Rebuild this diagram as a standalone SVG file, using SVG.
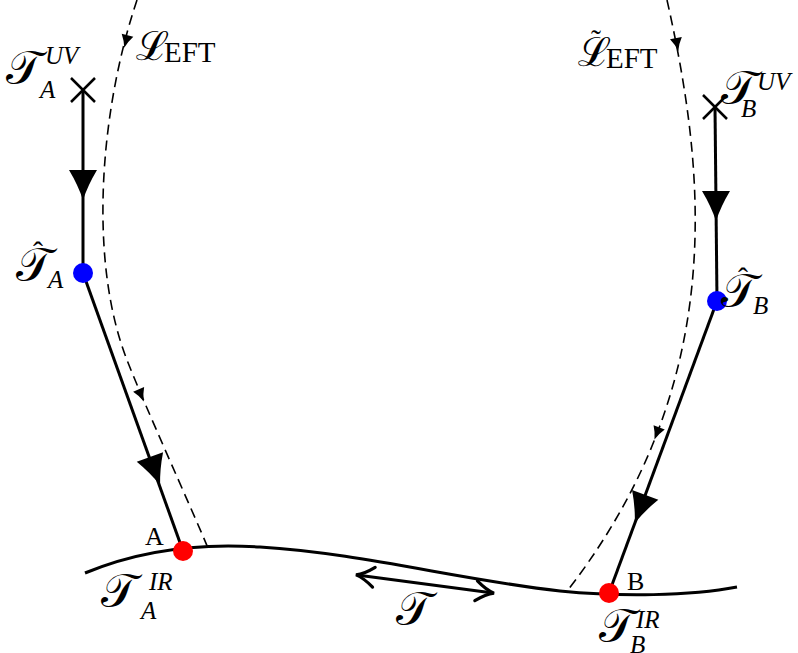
<svg xmlns="http://www.w3.org/2000/svg" width="798" height="653" viewBox="0 0 798 653">
<style>
.solid{fill:none;stroke:#000;stroke-width:3}
.dash{fill:none;stroke:#000;stroke-width:1.6;stroke-dasharray:10 6}
.cross{stroke:#000;stroke-width:2.5;fill:none}
.blue{fill:#0000ff}
.red{fill:#ff0000}
.scr{font-family:"DejaVu Serif","Noto Sans",serif;font-size:47px}
.scl{font-family:"DejaVu Serif","Noto Sans",serif;font-size:40px}
.it{font-family:"Liberation Serif",serif;font-style:italic;font-size:25px}
.rm{font-family:"Liberation Serif",serif;font-size:29px}
.acc{font-family:"Liberation Serif",serif;font-size:30px;text-anchor:middle}
.lbl{font-family:"Liberation Serif",serif;font-size:26px}
</style>
<defs>
<path id="bigArr" d="M15,0 Q0,5 -15,14 L-15,-14 Q0,-5 15,0 Z" fill="#000"/>
<path id="smArr" d="M7,0 Q0,2 -6,6 L-6,-6 Q0,-2 7,0 Z" fill="#000"/>
<marker id="chev" markerUnits="userSpaceOnUse" markerWidth="34" markerHeight="34" viewBox="-22 -17 34 34" refX="0" refY="0" orient="auto-start-reverse"><path d="M-17,-10 Q-7,-2 1,0 Q-7,2 -17,10" fill="none" stroke="#000" stroke-width="3.2" stroke-linecap="round"/></marker>
</defs>
<g id="connectors">
<path class="dash" d="M137,0 C100,110 88,260 127,360 C144.5,405 190,505 208,548"/>
<path class="dash" d="M667,0 C705,170 730,380 568,590"/>
<line class="solid" x1="83" y1="90" x2="83" y2="273"/>
<line class="solid" x1="83" y1="273" x2="183" y2="551"/>
<line class="solid" x1="715" y1="107" x2="717" y2="301"/>
<line class="solid" x1="717" y1="301" x2="609" y2="593"/>
<path class="solid" d="M85,573 C140,550 200,543 260,547 C360,553 460,580 560,591 C620,597 690,596 737,587"/>
<line class="solid" x1="357" y1="575" x2="493" y2="593" marker-start="url(#chev)" marker-end="url(#chev)"/>
<use href="#bigArr" transform="translate(83,185) rotate(90)"/>
<use href="#bigArr" transform="translate(155,471) rotate(70.15)"/>
<use href="#bigArr" transform="translate(716,206) rotate(90)"/>
<use href="#bigArr" transform="translate(640,509) rotate(110.25)"/>
<use href="#smArr" transform="translate(126,41) rotate(104.5)"/>
<use href="#smArr" transform="translate(141,395) rotate(66.7)"/>
<use href="#smArr" transform="translate(677,44) rotate(79.5)"/>
<use href="#smArr" transform="translate(657,433) rotate(111)"/>
</g>
<g id="L-EFT">
<text class="scl" x="136" y="60">ℒ</text><text class="rm" x="164" y="62">EFT</text>
</g>
<g id="Ltilde-EFT">
<text class="scl" x="578" y="66">ℒ</text><text class="acc" x="596" y="50">˜</text><text class="rm" x="606" y="68">EFT</text>
</g>
<g id="TA-UV">
<path class="cross" d="M71,78 L95,102 M95,78 L71,102"/>
<text class="scr" x="6" y="84">𝒯</text><text class="it" x="45" y="64">UV</text><text class="it" x="40" y="98">A</text>
</g>
<g id="TB-UV">
<path class="cross" d="M703,95 L727,119 M727,95 L703,119"/>
<text class="scr" x="721" y="104">𝒯</text><text class="it" x="757" y="90">UV</text><text class="it" x="741" y="117">B</text>
</g>
<g id="hatTA">
<circle class="blue" cx="83" cy="273" r="10"/>
<text class="scr" x="16" y="281">𝒯</text><text class="acc" x="38" y="262">ˆ</text><text class="it" x="48" y="288">A</text>
</g>
<g id="hatTB">
<circle class="blue" cx="717" cy="301" r="10"/>
<text class="scr" x="721" y="307">𝒯</text><text class="acc" x="743" y="288">ˆ</text><text class="it" x="753" y="314">B</text>
</g>
<g id="A">
<circle class="red" cx="183" cy="551" r="10"/>
<text class="lbl" x="145" y="545">A</text>
<text class="scr" x="101" y="607">𝒯</text><text class="it" x="149" y="590">IR</text><text class="it" x="141" y="619">A</text>
</g>
<g id="B">
<circle class="red" cx="609" cy="593" r="10"/>
<text class="lbl" x="627" y="590">B</text>
<text class="scr" x="599" y="642">𝒯</text><text class="it" x="636" y="628">IR</text><text class="it" x="630" y="653">B</text>
</g>
<g id="T-label">
<text class="scr" x="396" y="625">𝒯</text>
</g>
</svg>
